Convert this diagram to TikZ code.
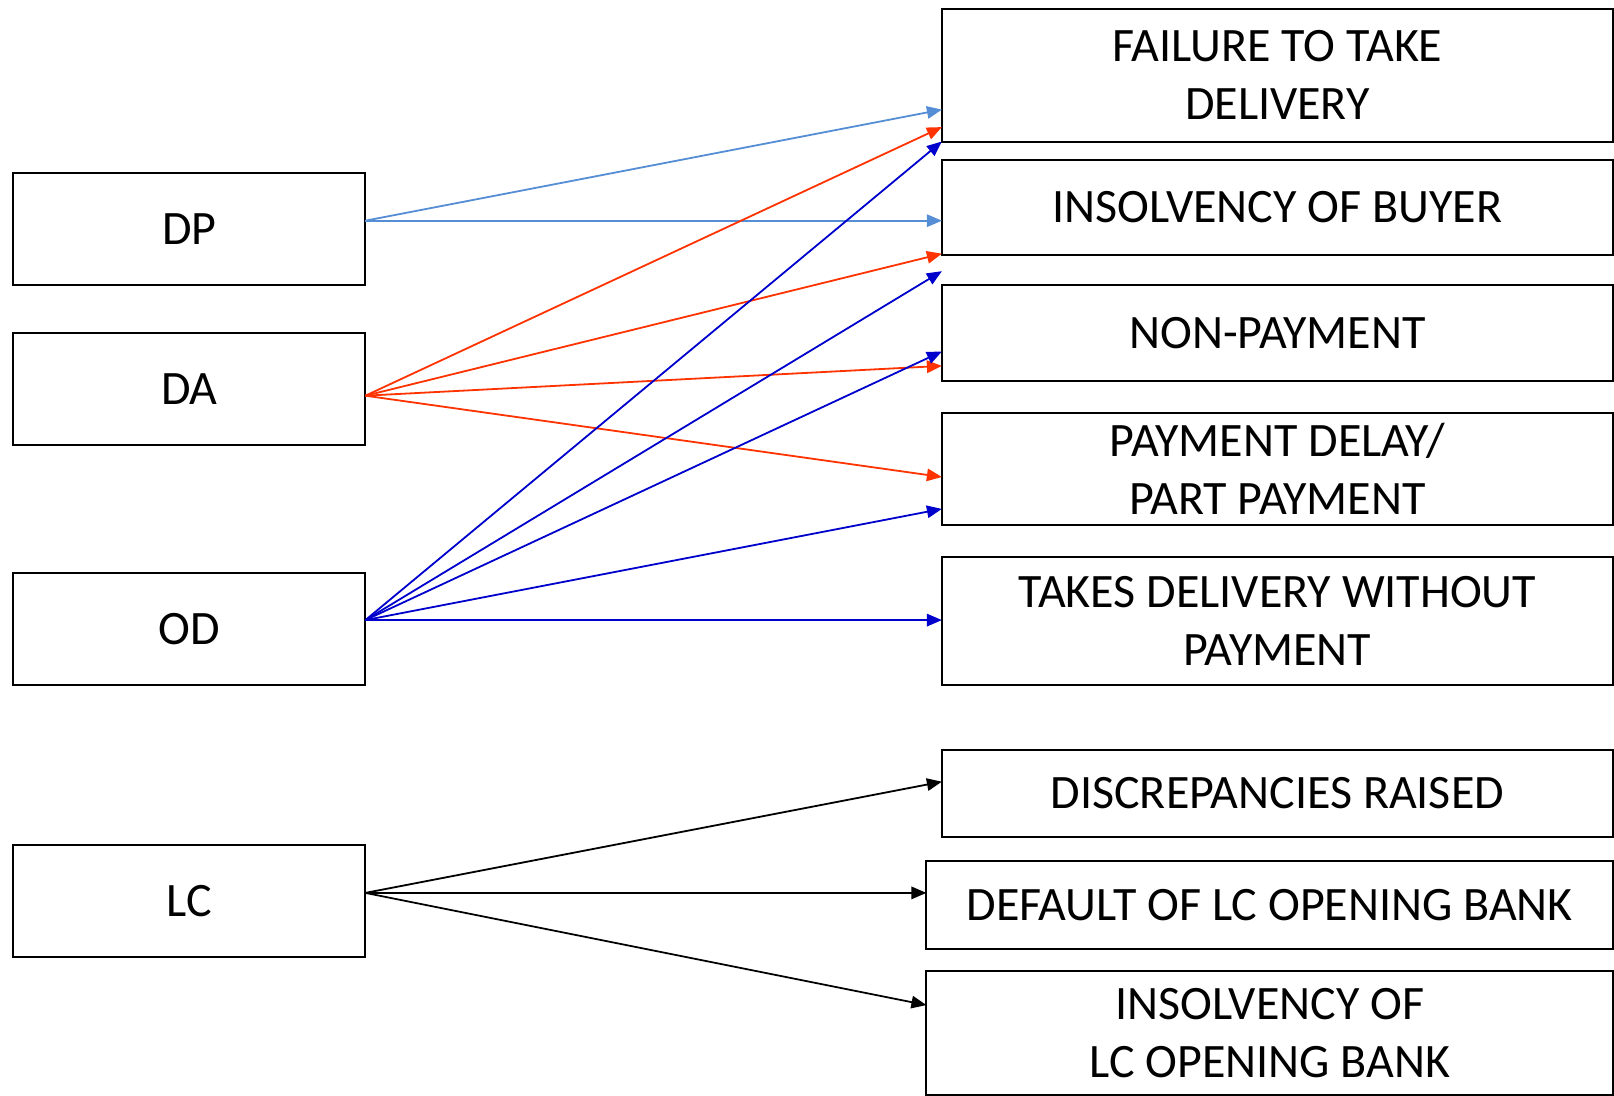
\documentclass[tikz,border=0pt]{standalone}
\usepackage{fontspec}
\setmainfont{Carlito}
\usepackage{tikz}
\usetikzlibrary{arrows.meta}
\definecolor{dpcol}{HTML}{558ED5}
\definecolor{dacol}{HTML}{FF3300}
\definecolor{odcol}{HTML}{0000CC}
\definecolor{lccol}{HTML}{000000}
\tikzset{
  box/.style={draw=black, line width=1pt, inner sep=0pt, outer sep=0pt,
    align=center, font=\fontsize{24}{29}\selectfont},
  srcbox/.style={box, minimum width=176pt, minimum height=55.75pt},
  riskbox/.style={box, minimum width=335.5pt},
  widebox/.style={box, minimum width=343.3pt},
  arr/.style={line width=0.9pt, -{Triangle[length=7.5pt,width=6.2pt]}},
  dpline/.style={arr, draw=dpcol, fill=dpcol},
  daline/.style={arr, draw=dacol, fill=dacol},
  odline/.style={arr, draw=odcol, fill=odcol},
  lcline/.style={arr, draw=lccol, fill=lccol}
}

\begin{document}
\begin{tikzpicture}[x=0.5pt, y=-0.5pt]
  \useasboundingbox (0,-1.5) rectangle (1614,1094.5);

  % instruments
  \node[srcbox] (dp) at (189.4,227.5) {DP};
  \node[srcbox] (da) at (189.4,387.5) {DA};
  \node[srcbox] (od) at (189.4,627.4) {OD};
  \node[srcbox] (lc) at (189.4,899.5) {LC};

  % risks
  \node[riskbox, minimum height=66.5pt] (fail) at (1277.4,73.6) {FAILURE TO TAKE\\DELIVERY};
  \node[riskbox, minimum height=47.35pt] (buyer) at (1277.4,205.9) {INSOLVENCY OF BUYER};
  \node[riskbox, minimum height=47.9pt] (nonpay) at (1277.4,331.9) {NON-PAYMENT};
  \node[riskbox, minimum height=56.1pt] (delay) at (1277.4,467.8) {PAYMENT DELAY/\\PART PAYMENT};
  \node[riskbox, minimum height=63.85pt] (takes) at (1277.4,619.7) {TAKES DELIVERY WITHOUT\\PAYMENT};
  \node[riskbox, minimum height=43.75pt] (discr) at (1277.4,792) {DISCREPANCIES RAISED};
  \node[widebox, minimum height=43.75pt] (deflt) at (1269.7,903.3) {DEFAULT OF LC OPENING BANK};
  \node[widebox, minimum height=62.4pt] (inslc) at (1269.7,1031.4) {INSOLVENCY OF\\LC OPENING BANK};

  % start points
  \coordinate (dpo) at (dp.east |- 0,219.2);
  \coordinate (dao) at (da.east |- 0,394.2);
  \coordinate (odo) at (od.east |- 0,618.6);
  \coordinate (lco) at (lc.east |- 0,891.4);

  % end points
  \coordinate (fail1) at (fail.west |- 0,108.1);
  \coordinate (fail2) at (fail.west |- 0,125.6);
  \coordinate (fail3) at (fail.west |- 0,140);
  \coordinate (buyer1) at (buyer.west |- 0,219.2);
  \coordinate (buyer2) at (buyer.west |- 0,252.2);
  \coordinate (gap1) at (buyer.west |- 0,269.7);
  \coordinate (nonpay1) at (nonpay.west |- 0,350);
  \coordinate (nonpay2) at (nonpay.west |- 0,364.4);
  \coordinate (delay1) at (delay.west |- 0,475.5);
  \coordinate (delay2) at (delay.west |- 0,507.4);
  \coordinate (discr1) at (discr.west |- 0,780.2);
  \coordinate (inslc1) at (inslc.west |- 0,1003.6);

  \draw[dpline] (dpo) -- (fail1);
  \draw[dpline] (dpo) -- (buyer1);

  \draw[daline] (dao) -- (fail2);
  \draw[daline] (dao) -- (buyer2);
  \draw[daline] (dao) -- (nonpay2);
  \draw[daline] (dao) -- (delay1);

  \draw[odline] (odo) -- (fail3);
  \draw[odline] (odo) -- (gap1);
  \draw[odline] (odo) -- (nonpay1);
  \draw[odline] (odo) -- (delay2);
  \draw[odline] (odo) -- (takes.west |- odo);

  \draw[lcline] (lco) -- (discr1);
  \draw[lcline] (lco) -- (deflt.west |- lco);
  \draw[lcline] (lco) -- (inslc1);
\end{tikzpicture}
\end{document}
